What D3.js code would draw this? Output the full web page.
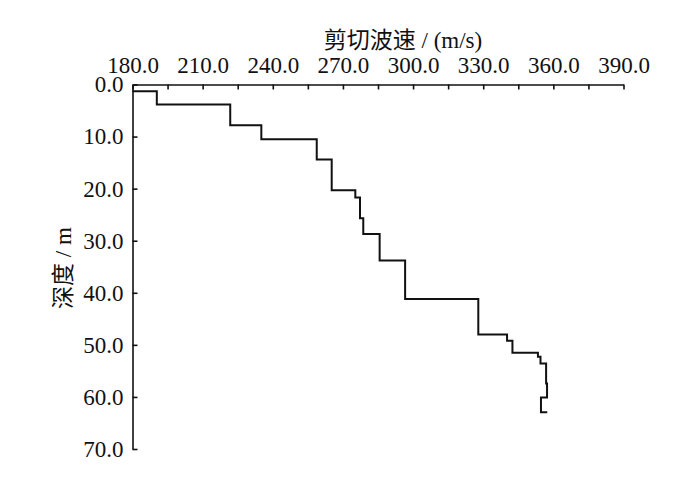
<!DOCTYPE html>
<html><head><meta charset="utf-8">
<script src="https://cdn.jsdelivr.net/npm/d3@7"></script>
<style>
body{margin:0;background:#fff;}
text{font-family:"Liberation Serif","Times New Roman","Noto Sans CJK SC",serif;fill:#111;}
</style></head>
<body><svg id="c" width="700" height="481"></svg>
<script>
// Data (shear wave velocity profile)
const layerTop = [1.3, 3.84, 7.84, 10.5, 14.4, 20.3, 21.7, 25.7, 28.7, 33.8, 41.2, 48.0, 49.2, 51.5, 52.3, 53.6, 57.4, 60.1];
const layerVelocity = [190.4, 221.8, 235.1, 258.8, 265.2, 275.3, 277.3, 278.7, 285.7, 296.6, 327.9, 340.2, 342.5, 353.4, 354.5, 356.9, 357.3, 354.7];
const finalDepth = [62.95];
const finalVelocity = [357.4];
const startVelocity = [180];
const xTicks = [180, 210, 240, 270, 300, 330, 360, 390];
const xMinorTicks = [195, 225, 255, 285, 315, 345, 375];
const yTicks = [0, 10, 20, 30, 40, 50, 60, 70];

const svg = d3.select("#c");
const x = d3.scaleLinear().domain([180, 390]).range([132.5, 623.5]);
const y = d3.scaleLinear().domain([0, 70]).range([84.5, 449]);

// build step points
const pts = [[startVelocity[0], layerTop[0]]];
layerTop.forEach((t, i) => {
  const bottom = i < layerTop.length - 1 ? layerTop[i + 1] : finalDepth[0];
  pts.push([layerVelocity[i], t]);
  pts.push([layerVelocity[i], bottom]);
});
pts.push([finalVelocity[0], finalDepth[0]]);

const fmt = d3.format(".1f");

// x axis (top)
svg.append("g").attr("transform", `translate(0,${y(0)})`)
  .call(d3.axisTop(x).tickValues(xTicks).tickFormat(fmt).tickSizeInner(-5).tickSizeOuter(0).tickPadding(12));
svg.append("g").attr("transform", `translate(0,${y(0)})`)
  .call(d3.axisTop(x).tickValues(xMinorTicks).tickFormat("").tickSizeInner(-5).tickSizeOuter(0))
  .select(".domain").remove();

// y axis (left)
svg.append("g").attr("transform", `translate(${x(180)},0)`)
  .call(d3.axisLeft(y).tickValues(yTicks).tickFormat(fmt).tickSizeInner(-5).tickSizeOuter(0).tickPadding(9));

svg.selectAll(".tick text").attr("font-size", 23).attr("fill", "#111");
svg.selectAll(".domain, .tick line").attr("stroke", "#111").attr("stroke-width", 1.6);

// profile
svg.append("path").datum(pts)
  .attr("fill", "none").attr("stroke", "#111").attr("stroke-width", 2)
  .attr("d", d3.line().x(d => x(d[0])).y(d => y(d[1])));

// titles
svg.append("text").attr("x", 403).attr("y", 48).attr("text-anchor", "middle")
  .style("font-size", "23px").text("剪切波速 / (m/s)");
svg.append("text").attr("transform", `translate(71,268) rotate(-90)`).attr("text-anchor", "middle")
  .style("font-size", "23px").text("深度 / m");
</script></body></html>
